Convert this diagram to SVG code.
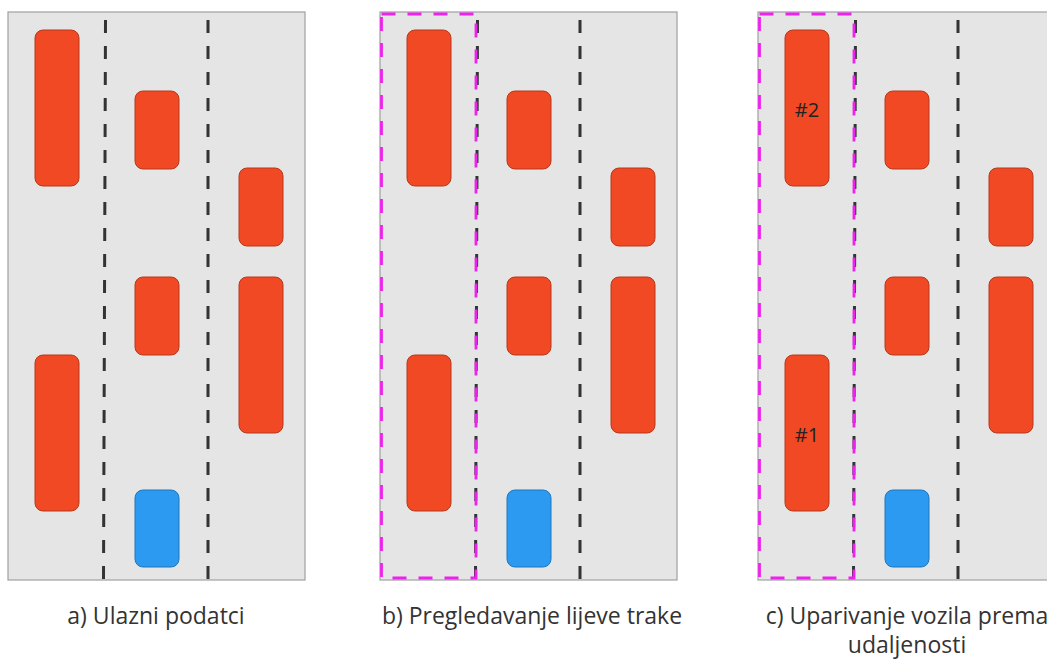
<svg xmlns="http://www.w3.org/2000/svg" width="1047" height="660" viewBox="0 0 1047 660">
<defs>
<style>
.road{fill:#e5e5e5;stroke:#a0a0a0;stroke-width:1.2}
.lane{stroke:#333;stroke-width:3;stroke-dasharray:13 13;fill:none}
.car{fill:#f04923;stroke:#b8391c;stroke-width:1}
.ego{fill:#2b9af0;stroke:#1f77bd;stroke-width:1}
.sel{fill:none;stroke:#ee22ee;stroke-width:2.8;stroke-dasharray:14 12}
.cap{font-family:"Open Sans","Liberation Sans",sans-serif;font-size:23px;fill:#333;text-anchor:middle}
.num{font-family:"Open Sans","Liberation Sans",sans-serif;font-size:20px;fill:#222;text-anchor:middle}
</style>
<g id="scene">
<rect class="road" x="8" y="12" width="297" height="568"/>
<line class="lane" x1="105.5" y1="20" x2="103.5" y2="580"/>
<line class="lane" x1="208" y1="20" x2="208" y2="580"/>
<rect class="car" x="35" y="30" width="44" height="156" rx="8"/>
<rect class="car" x="35" y="355" width="44" height="156" rx="8"/>
<rect class="car" x="135" y="91" width="44" height="78" rx="8"/>
<rect class="car" x="135" y="277" width="44" height="78" rx="8"/>
<rect class="ego" x="135" y="490" width="44" height="77" rx="8"/>
<rect class="car" x="239" y="168" width="44" height="78" rx="8"/>
<rect class="car" x="239" y="277" width="44" height="156" rx="8"/>
</g>
</defs>
<g id="panel-a">
<use href="#scene"/>
<text class="cap" x="156" y="624">a) Ulazni podatci</text>
</g>
<g id="panel-b">
<use href="#scene" x="372"/>
<rect class="sel" x="381.5" y="14" width="94.5" height="564"/>
<text class="cap" x="532" y="624">b) Pregledavanje lijeve trake</text>
</g>
<g id="panel-c">
<use href="#scene" x="750"/>
<rect class="sel" x="759.5" y="14" width="94.5" height="564"/>
<text class="num" x="807" y="117">#2</text>
<text class="num" x="807" y="442">#1</text>
<text class="cap" x="907" y="624">c) Uparivanje vozila prema</text>
<text class="cap" x="907" y="653">udaljenosti</text>
</g>
</svg>
